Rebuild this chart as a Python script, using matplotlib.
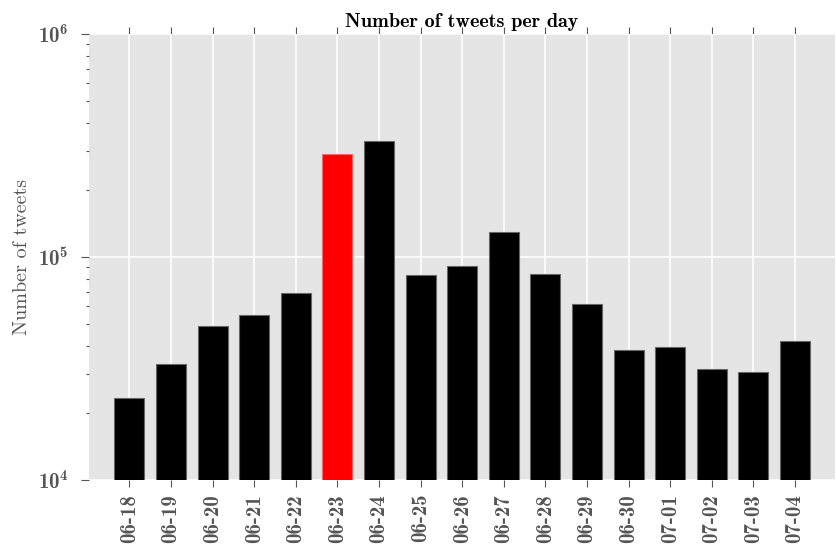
import matplotlib
matplotlib.use("Agg")
import matplotlib.pyplot as plt
import numpy as np

days = ["06-18", "06-19", "06-20", "06-21", "06-22", "06-23", "06-24", "06-25",
        "06-26", "06-27", "06-28", "06-29", "06-30", "07-01", "07-02", "07-03", "07-04"]
tweets = [23300, 33000, 49000, 55000, 69000, 289600, 329900, 83300,
          91100, 129400, 83600, 61300, 38300, 39500, 31450, 30500, 42000]
highlight_day = "06-23"

plt.rcParams.update({
    "font.family": ["cmb10", "DejaVu Serif"],
    "mathtext.fontset": "cm",
    "mathtext.default": "bf",
    "axes.unicode_minus": False,
})

fig = plt.figure(figsize=(8.36, 5.49), dpi=100)
ax = fig.add_axes([89 / 836, 1 - 480 / 549, (835 - 89) / 836, (480 - 34) / 549])
ax.set_facecolor("#E5E5E5")
for s in ax.spines.values():
    s.set_visible(False)

x = np.arange(len(days))
colors = ["red" if d == highlight_day else "black" for d in days]
edges = ["#ff6666" if d == highlight_day else "#666666" for d in days]
ax.bar(x, tweets, width=0.72, color=colors, edgecolor=edges, linewidth=0.8, zorder=3)

ax.set_yscale("log")
ax.set_ylim(1e4, 1e6)
ax.set_xlim(-0.97, 16.96)
ax.set_xticks(x)
ax.set_xticklabels(days, rotation=90, fontsize=15, color="#555555")
ax.tick_params(axis="y", which="major", labelsize=15, labelcolor="#555555")

ax.grid(True, which="major", color="white", linewidth=1.2, zorder=0)
ax.set_axisbelow(True)

ax.tick_params(axis="x", which="both", direction="out", top=True, bottom=True,
               length=5, width=0.8, color="#555555", pad=5)
ax.tick_params(axis="y", which="major", direction="out", left=True, right=False,
               length=6, width=0.8, color="#555555", pad=9)
ax.tick_params(axis="y", which="minor", direction="out", left=True, right=False,
               length=2.5, width=0.8, color="#555555")

ax.set_ylabel("Number of tweets", fontsize=14.5, color="#555555", labelpad=4.5,
              family=["cmr10", "DejaVu Serif"])
ax.set_title("Number of tweets per day", fontsize=14.5, color="black", pad=5)

fig.savefig("out.png", dpi=100)
